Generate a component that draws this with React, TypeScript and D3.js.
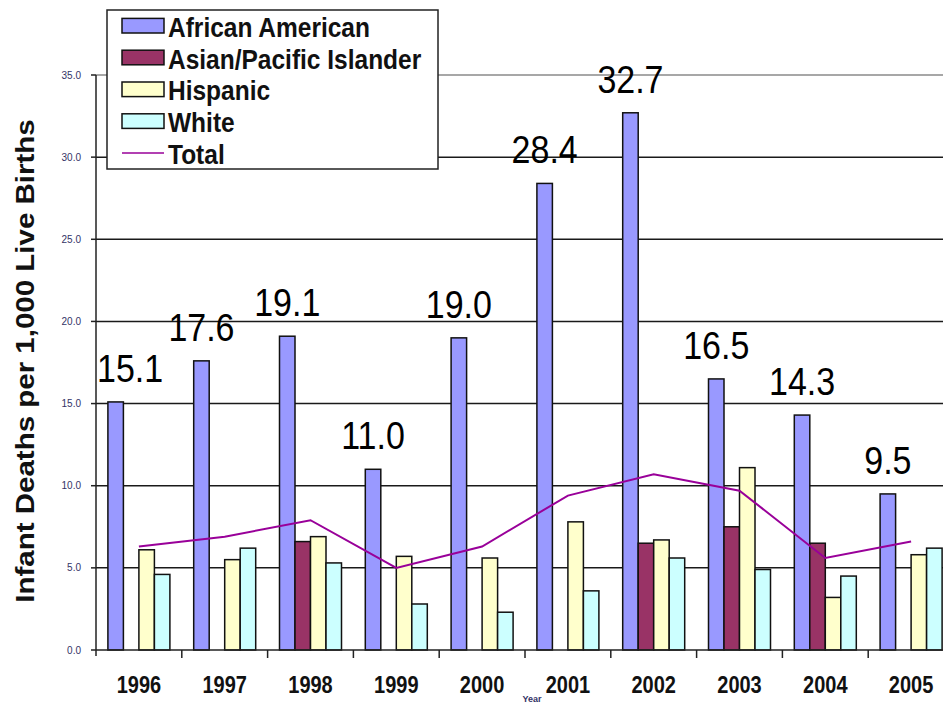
import React, { useEffect, useRef } from 'react';
import * as d3 from 'd3';

// chart data
const years = ["1996", "1997", "1998", "1999", "2000", "2001", "2002", "2003", "2004", "2005"];
const africanAmerican = [15.1, 17.6, 19.1, 11.0, 19.0, 28.4, 32.7, 16.5, 14.3, 9.5];
const asianPacific = [null, null, 6.6, null, null, null, 6.5, 7.5, 6.5, null];
const hispanic = [6.1, 5.5, 6.9, 5.7, 5.6, 7.8, 6.7, 11.1, 3.2, 5.8];
const white = [4.6, 6.2, 5.3, 2.8, 2.3, 3.6, 5.6, 4.9, 4.5, 6.2];
const total = [6.3, 6.9, 7.9, 5.0, 6.3, 9.4, 10.7, 9.7, 5.6, 6.6];
const yTicks = [0, 5, 10, 15, 20, 25, 30, 35];

const seriesNames = ["African American", "Asian/Pacific Islander", "Hispanic", "White"];
const seriesValues = [africanAmerican, asianPacific, hispanic, white];
const colors = ["#9999ff", "#993366", "#ffffcc", "#ccffff"];
const lineColor = "#990099";

const W = 943, H = 704;
const FONT = "'Liberation Sans', Arial, sans-serif";

const App = () => {
    const ref = useRef<SVGSVGElement>(null);

    useEffect(() => {
        const svg = d3.select(ref.current);
        svg.selectAll("*").remove();

        const left = 96, bottom = 650;
        const x = d3.scaleBand().domain(years).range([left, left + 858]).padding(0);
        const inner = d3.scaleBand().domain(seriesNames)
            .range([11.9, x.bandwidth() - 11.9]).padding(0);
        const y = d3.scaleLinear().domain([0, 35]).range([bottom, 75]);

        // grid lines
        svg.append("g").selectAll("line")
            .data(yTicks.filter(t => t > 0))
            .join("line")
            .attr("x1", left).attr("x2", W)
            .attr("y1", d => y(d)).attr("y2", d => y(d))
            .attr("stroke", d => d === 35 ? "#8a8a8a" : "#1a1a1a")
            .attr("stroke-width", 1.5);

        // y axis
        const ya = svg.append("g");
        ya.append("line").attr("x1", left).attr("x2", left)
            .attr("y1", y(35)).attr("y2", bottom + 6)
            .attr("stroke", "#222").attr("stroke-width", 1.5);
        ya.selectAll("line.tick").data(yTicks).join("line").attr("class", "tick")
            .attr("x1", left - 5).attr("x2", left)
            .attr("y1", d => y(d)).attr("y2", d => y(d))
            .attr("stroke", "#222").attr("stroke-width", 1.5);
        ya.selectAll("text").data(yTicks).join("text")
            .attr("x", 81).attr("y", d => y(d))
            .attr("dy", "0.35em")
            .attr("text-anchor", "end")
            .attr("font-family", FONT).attr("font-size", 10)
            .attr("fill", "#333366")
            .text(d => d.toFixed(1));

        // bars
        seriesNames.forEach((name, si) => {
            const vals = seriesValues[si];
            svg.append("g")
                .selectAll("rect")
                .data(years.map((yr, i) => ({ yr, v: vals[i] })).filter(d => d.v != null))
                .join("rect")
                .attr("x", d => (x(d.yr) as number) + (inner(name) as number))
                .attr("width", inner.bandwidth())
                .attr("y", d => y(d.v as number))
                .attr("height", d => bottom - y(d.v as number))
                .attr("fill", colors[si])
                .attr("stroke", "#111")
                .attr("stroke-width", 1.5);
        });

        // x axis
        const xa = svg.append("g");
        xa.append("line").attr("x1", left).attr("x2", W)
            .attr("y1", bottom).attr("y2", bottom)
            .attr("stroke", "#222").attr("stroke-width", 1.5);
        xa.selectAll("line.tick").data(years.slice(1)).join("line").attr("class", "tick")
            .attr("x1", d => x(d) as number).attr("x2", d => x(d) as number)
            .attr("y1", bottom).attr("y2", bottom + 8)
            .attr("stroke", "#222").attr("stroke-width", 1.5);
        xa.selectAll("text").data(years).join("text")
            .attr("transform", d => `translate(${(x(d) as number) + x.bandwidth() / 2},693) scale(1,1.18)`)
            .attr("text-anchor", "middle")
            .attr("font-family", FONT).attr("font-size", 20).attr("font-weight", "bold")
            .attr("fill", "#111")
            .text(d => d);
        svg.append("text")
            .attr("x", 532).attr("y", 702)
            .attr("text-anchor", "middle")
            .attr("font-family", FONT).attr("font-size", 9).attr("font-weight", "bold")
            .attr("fill", "#333366")
            .text("Year");

        // total line
        const line = d3.line<number>()
            .x((d, i) => (x(years[i]) as number) + x.bandwidth() / 2)
            .y(d => y(d));
        svg.append("path")
            .attr("d", line(total))
            .attr("fill", "none")
            .attr("stroke", lineColor)
            .attr("stroke-width", 2);

        // value labels on the African American bars
        const labels = svg.append("g").selectAll("text")
            .data(years.map((yr, i) => ({ yr, v: africanAmerican[i] })))
            .join("text")
            .attr("text-anchor", "middle")
            .attr("font-family", FONT).attr("font-size", 34)
            .attr("fill", "#000")
            .text(d => d.v.toFixed(1));
        labels.each(function (d) {
            const el = this as SVGTextElement;
            const w = el.getComputedTextLength();
            let cx = (x(d.yr) as number) + (inner(seriesNames[0]) as number) + inner.bandwidth() / 2;
            // keep the label clear of the y axis
            if (cx - w / 2 < left + 1) cx = left + 1 + w / 2;
            d3.select(el).attr("transform", `translate(${cx},${y(d.v) - 20}) scale(1,1.15)`);
        });

        // y title
        svg.append("text")
            .attr("transform", "translate(34,361) rotate(-90) scale(1.18,1)")
            .attr("text-anchor", "middle")
            .attr("font-family", FONT).attr("font-size", 25).attr("font-weight", "bold")
            .attr("fill", "#111")
            .text("Infant Deaths per 1,000 Live Births");

        // legend
        const lg = svg.append("g");
        lg.append("rect").attr("x", 107).attr("y", 10).attr("width", 331).attr("height", 159)
            .attr("fill", "#fff").attr("stroke", "#222").attr("stroke-width", 1.5);
        const rowY = (i: number) => 25.7 + i * 31.8;
        seriesNames.forEach((name, i) => {
            lg.append("rect")
                .attr("x", 122).attr("y", rowY(i) - 7.3)
                .attr("width", 42).attr("height", 14.6)
                .attr("fill", colors[i]).attr("stroke", "#111").attr("stroke-width", 1.5);
        });
        lg.append("line").attr("x1", 122).attr("x2", 164)
            .attr("y1", rowY(4)).attr("y2", rowY(4))
            .attr("stroke", lineColor).attr("stroke-width", 1.5);
        lg.selectAll("text").data([...seriesNames, "Total"]).join("text")
            .attr("transform", (d, i) => `translate(168,${rowY(i) + 11}) scale(1,1.14)`)
            .attr("font-family", FONT).attr("font-size", 24.5).attr("font-weight", "bold")
            .attr("fill", "#111")
            .text(d => d);
    }, []);

    return (
        <svg ref={ref} width={W} height={H}
             style={{ position: 'absolute', left: 0, top: 0, background: '#fff', overflow: 'hidden' }} />
    );
};

export default App;
